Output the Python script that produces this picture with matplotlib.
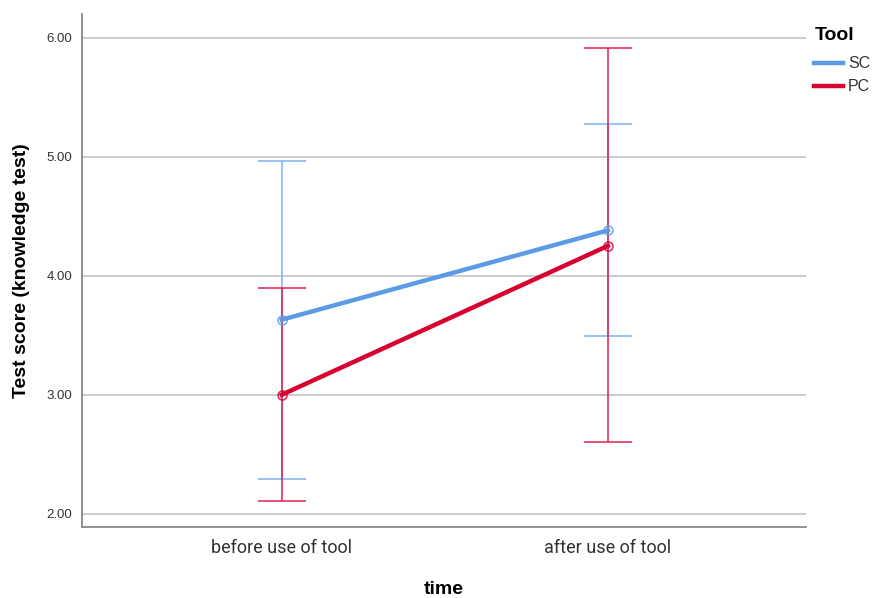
import numpy as np
import matplotlib.pyplot as plt

plt.rcParams['font.family'] = ['Liberation Sans', 'DejaVu Sans']

# Data
times = ['before use of tool', 'after use of tool']
groups = ['SC', 'PC']
sc_mean = [3.63, 4.38]
sc_low = [2.29, 3.49]
sc_high = [4.96, 5.27]
pc_mean = [3.00, 4.25]
pc_low = [2.11, 2.60]
pc_high = [3.90, 5.91]

line_colors = ['#5b9be6', '#d7002f']
bar_colors = ['#7fb3f0', '#dc2350']

fig = plt.figure(figsize=(8.72, 5.98), dpi=100)
ax = fig.add_axes([0.094, 0.119, 0.830, 0.858])

x = np.arange(len(times))
means = [sc_mean, pc_mean]
lows = [sc_low, pc_low]
highs = [sc_high, pc_high]

for i, g in enumerate(groups):
    m = np.array(means[i])
    err = [m - np.array(lows[i]), np.array(highs[i]) - m]
    ax.errorbar(x, m, yerr=err, fmt='none', ecolor=bar_colors[i],
                elinewidth=1.3, capsize=17.5, capthick=1.3, alpha=0.85, zorder=2)
    ax.plot(x, m, color=line_colors[i], lw=3.2, label=g, zorder=3)
    ax.plot(x, m, 'o', mfc='none', mec=line_colors[i], ms=6.5, mew=1.2,
            zorder=4, alpha=0.8)

ax.set_xlim(-0.613, 1.607)
ax.set_ylim(1.89, 6.2)
ax.set_xticks(x)
ax.set_xticklabels(times, fontsize=13, color='#333333', family=['Roboto', 'DejaVu Sans'])
ax.set_yticks([2, 3, 4, 5, 6])
ax.set_yticklabels(['%.2f' % v for v in [2, 3, 4, 5, 6]], fontsize=9.5, color='#333333')
ax.tick_params(length=0, pad=7)
ax.tick_params(axis='x', pad=9)
ax.grid(axis='y', color='#c8c8c8', lw=1.3)
ax.set_axisbelow(True)
for s in ['top', 'right']:
    ax.spines[s].set_visible(False)
for s in ['left', 'bottom']:
    ax.spines[s].set_color('#888888')
    ax.spines[s].set_linewidth(1.3)

ax.set_xlabel('time', fontsize=14, fontweight='bold', labelpad=17)
ax.set_ylabel('Test score (knowledge test)', fontsize=14, fontweight='bold', labelpad=12)

leg = ax.legend(loc='upper left', bbox_to_anchor=(1.003, 0.987), frameon=False,
                title='Tool', fontsize=11.5, handlelength=1.8, handletextpad=0.3,
                labelspacing=0.5, borderaxespad=0)
leg.get_title().set_fontweight('bold')
leg.get_title().set_fontsize(14)
leg._legend_box.align = 'left'
leg._legend_box.sep = 9
for t in leg.get_texts():
    t.set_color('#333333')

fig.savefig('out.png', dpi=100)
